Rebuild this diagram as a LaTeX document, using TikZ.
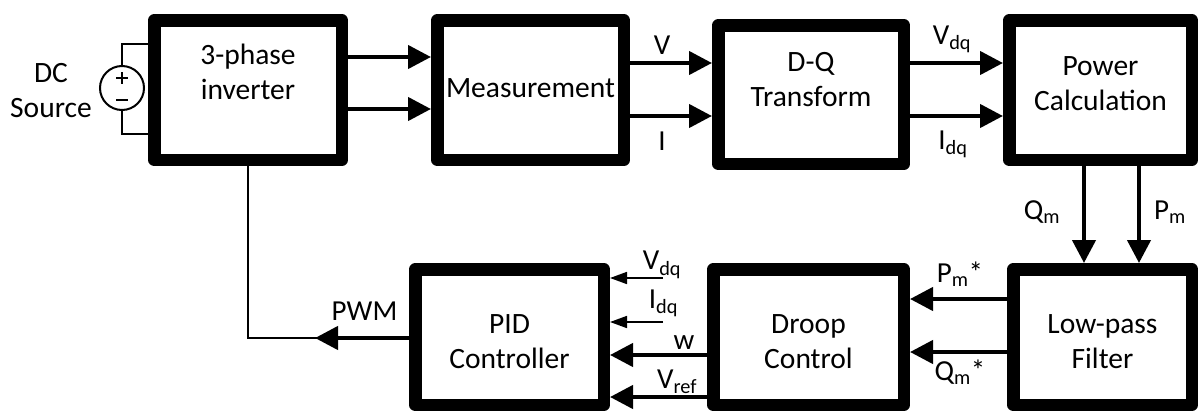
\documentclass[tikz,border=0pt]{standalone}
\usepackage{fontspec}
\setmainfont{Carlito}
\usetikzlibrary{arrows.meta,calc}
\begin{document}
\begin{tikzpicture}[x=1pt,y=-1pt]
\tikzset{
 blk/.style={draw=black, line width=12.5pt, line join=round, outer sep=6.25pt, inner sep=0pt},
 lbl/.style={font=\fontsize{29.5}{35}\selectfont, align=center, inner sep=0pt},
 sig/.style={font=\fontsize{29}{35}\selectfont, inner sep=0pt},
 arr/.style={line width=4.3pt, -{Triangle[length=23pt,width=23pt]}},
 tarr/.style={line width=1.7pt, -{Triangle[length=17pt,width=12pt]}},
 wire/.style={line width=1.4pt},
}
\useasboundingbox (0,0) rectangle (1200,410);
% blocks
\node[blk, minimum width=187.5pt, minimum height=139.5pt] (inv) at (248,90) {};
\node[blk, minimum width=186.5pt, minimum height=139.5pt] (meas) at (530.5,90) {};
\node[blk, minimum width=185.5pt, minimum height=138.5pt] (dq) at (811,94.5) {};
\node[blk, minimum width=182.5pt, minimum height=139.5pt] (pow) at (1100.5,90) {};
\node[blk, minimum width=188.5pt, minimum height=135.5pt] (pid) at (509.5,337) {};
\node[blk, minimum width=190.5pt, minimum height=135.5pt] (droop) at (808.5,337) {};
\node[blk, minimum width=178.5pt, minimum height=135.5pt] (lpf) at (1102.5,337) {};
% block labels
\node[lbl] (tinv) at (248,71.5) {3-phase\\inverter};
\node[lbl] (tmeas) at (530.5,88) {Measurement};
\node[lbl] (tdq) at (811,80) {D-Q\\Transform};
\node[lbl] (tpow) at (1100.5,84) {Power\\Calculation};
\node[lbl] (tpid) at (509.5,341.5) {PID\\Controller};
\node[lbl] (tdroop) at (808.5,341.5) {Droop\\Control};
\node[lbl] (tlpf) at (1102.5,341.5) {Low-pass\\Filter};
% DC source
\node[draw, circle, line width=2pt, minimum size=44pt, inner sep=0pt, outer sep=0pt] (src) at (122,88) {};
\draw[line width=2.8pt] ($(src)+(-6,-10)$) -- ($(src)+(6,-10)$)
  ($(src)+(0,-16)$) -- ($(src)+(0,-4)$);
\draw[line width=2.8pt] ($(src)+(-6,12)$) -- ($(src)+(6,12)$);
\draw[wire] (src.north) |- ($(inv.west)+(0,-46)$);
\draw[wire] (src.south) |- ($(inv.west)+(0,44)$);
\node[lbl] (tsrc) at (51,91) {DC\\Source};
% top row arrows
\draw[arr] ($(inv.east)+(0,-33)$) coordinate (a1) -- (meas.west |- a1);
\draw[arr] ($(inv.east)+(0,19)$) coordinate (a2) -- (meas.west |- a2);
\draw[arr] ($(meas.east)+(0,-27)$) coordinate (a3) -- (dq.west |- a3);
\draw[arr] ($(meas.east)+(0,26)$) coordinate (a4) -- (dq.west |- a4);
\draw[arr] ($(dq.east)+(0,-31.5)$) coordinate (a5) -- (pow.west |- a5);
\draw[arr] ($(dq.east)+(0,21.5)$) coordinate (a6) -- (pow.west |- a6);
% vertical arrows
\draw[arr] ($(pow.south)+(-16.5,0)$) coordinate (a7) -- (lpf.north -| a7);
\draw[arr] ($(pow.south)+(38.5,0)$) coordinate (a8) -- (lpf.north -| a8);
% bottom row arrows
\draw[arr] ($(lpf.west)+(0,-38)$) coordinate (b1) -- (droop.east |- b1);
\draw[arr] ($(lpf.west)+(0,15)$) coordinate (b2) -- (droop.east |- b2);
\draw[arr] ($(droop.west)+(0,18)$) coordinate (b3) -- (pid.east |- b3);
\draw[arr] ($(droop.west)+(0,60)$) coordinate (b4) -- (pid.east |- b4);
\coordinate (vin) at (663,278);
\coordinate (iin) at (663,322);
\draw[tarr] (vin) -- (pid.east |- vin);
\draw[tarr] (iin) -- (pid.east |- iin);
% PWM feedback
\coordinate (fb) at (248,338);
\coordinate (pwmtip) at (315,338);
\draw[wire] (inv.south) -- (inv.south |- fb) -- (pid.west |- fb);
\draw[arr] (pid.west |- fb) -- (pwmtip);
% signal labels
\node[sig] (lv) at (662,45) {V};
\node[sig] (li) at (662,141.5) {I};
\node[sig] (lvdq) at (952,39.5) {V\textsubscript{dq}};
\node[sig] (lidq) at (953,144.5) {I\textsubscript{dq}};
\node[sig] (lqm) at (1042,212) {Q\textsubscript{m}};
\node[sig] (lpm) at (1170,212) {P\textsubscript{m}};
\node[sig] (lpms) at (960,274) {P\textsubscript{m}*};
\node[sig] (lqms) at (960,372) {Q\textsubscript{m}*};
\node[sig] (lvdq2) at (662,265) {V\textsubscript{dq}};
\node[sig] (lidq2) at (663.5,303.5) {I\textsubscript{dq}};
\node[sig] (lw) at (684,343) {w};
\node[sig] (lvref) at (677,382) {V\textsubscript{ref}};
\node[sig] (lpwm) at (364.5,311) {PWM};
\end{tikzpicture}
\end{document}
